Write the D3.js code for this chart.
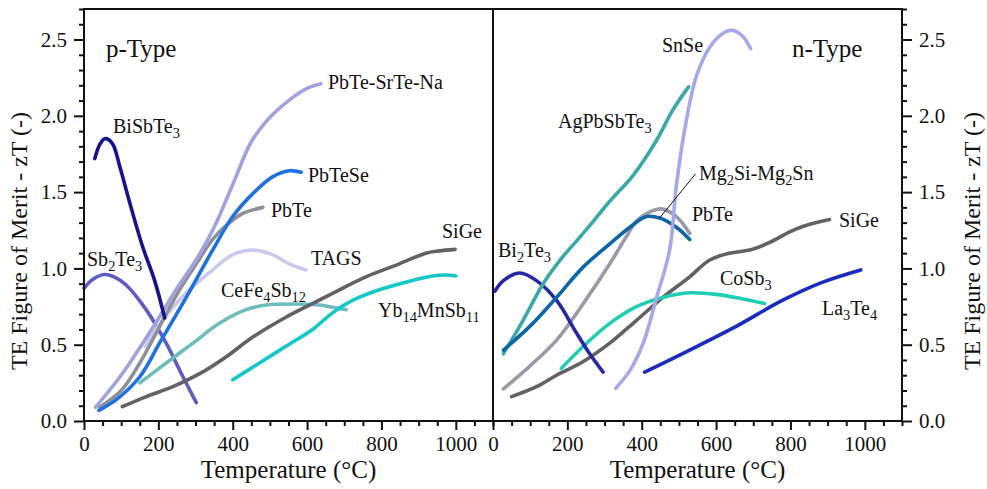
<!DOCTYPE html>
<html>
<head>
<meta charset="utf-8">
<script src="https://cdn.jsdelivr.net/npm/d3@7"></script>
<style>
  body { margin: 0; background: #fff; }
</style>
</head>
<body>
<svg width="987" height="489"></svg>
<script>
// Overall dimension of the canvas
const width = 987, height = 489;
const FONT = '"Liberation Serif"';

// Axis setup shared by both panels
const xDomain = [0, 1100];
const yDomain = [0, 2.7];
const xMajorTicks = [0, 200, 400, 600, 800, 1000];
const yMajorTicks = [0, 0.5, 1.0, 1.5, 2.0, 2.5];
const xTitle = "Temperature (\u00B0C)";
const yTitle = "TE Figure of Merit - zT (-)";

// ---- p-Type series: [temperature (°C), zT] ----
const pBiSbTe3 = [[29,1.72],[42,1.81],[56,1.85],[76,1.82],[96,1.67],[123,1.43],[158,1.14],[190,0.92],[217,0.675]];
const pSb2Te3 = [[0,0.87],[25,0.93],[55,0.96],[85,0.94],[114,0.89],[167,0.73],[221,0.51],[266,0.29],[302,0.12]];
const pPbTeSrTeNa = [[31,0.09],[100,0.30],[150,0.48],[200,0.67],[250,0.87],[300,1.05],[350,1.27],[400,1.55],[450,1.83],[500,1.99],[550,2.10],[600,2.18],[637,2.21]];
const pPbTeSe = [[40,0.07],[87,0.14],[150,0.29],[203,0.51],[275,0.81],[346,1.12],[400,1.34],[454,1.49],[507,1.60],[552,1.64],[584,1.63]];
const pPbTe = [[42,0.09],[100,0.2],[150,0.38],[212,0.66],[257,0.86],[302,1.03],[346,1.19],[382,1.28],[427,1.36],[481,1.40]];
const pTAGS = [[165,0.49],[186,0.575],[275,0.84],[346,0.99],[400,1.09],[454,1.12],[507,1.09],[552,1.03],[597,0.99]];
const pCeFe4Sb12 = [[150,0.25],[221,0.38],[293,0.51],[364,0.64],[436,0.73],[490,0.76],[561,0.767],[633,0.76],[669,0.745],[705,0.73]];
const pSiGe = [[103,0.094],[168,0.16],[239,0.225],[311,0.31],[382,0.42],[454,0.55],[543,0.68],[615,0.77],[687,0.86],[758,0.945],[848,1.03],[919,1.10],[955,1.115],[998,1.125]];
const pYb14MnSb11 = [[400,0.27],[472,0.38],[543,0.49],[615,0.60],[669,0.71],[722,0.79],[794,0.86],[866,0.91],[937,0.95],[973,0.957],[1000,0.95]];

// ---- n-Type series ----
const nBi2Te3 = [[5,0.85],[28,0.92],[72,0.97],[117,0.92],[171,0.79],[225,0.575],[260,0.44],[296,0.32]];
const nAgPbSbTe3 = [[28,0.44],[81,0.66],[135,0.90],[189,1.08],[225,1.18],[260,1.28],[314,1.44],[377,1.61],[440,1.84],[484,2.04],[526,2.19]];
const nSnSe = [[330,0.214],[368,0.33],[404,0.51],[440,0.81],[475,1.12],[493,1.54],[520,1.97],[547,2.26],[583,2.45],[618,2.54],[645,2.56],[672,2.52],[693,2.44]];
const nMg2SiMg2Sn = [[28,0.465],[99,0.62],[171,0.81],[243,1.01],[314,1.16],[368,1.27],[413,1.34],[448,1.33],[493,1.27],[529,1.19]];
const nPbTe = [[28,0.21],[99,0.36],[171,0.53],[243,0.77],[314,1.03],[359,1.21],[386,1.31],[422,1.37],[453,1.39],[493,1.34],[529,1.23]];
const nSiGe = [[50,0.16],[117,0.225],[171,0.30],[243,0.39],[314,0.51],[386,0.66],[457,0.81],[529,0.945],[583,1.055],[636,1.10],[690,1.12],[744,1.17],[798,1.24],[833,1.275],[869,1.30],[905,1.32]];
const nCoSb3 = [[184,0.345],[243,0.49],[314,0.64],[386,0.75],[457,0.81],[529,0.84],[601,0.83],[672,0.80],[730,0.77]];
const nLa3Te4 = [[408,0.32],[529,0.465],[654,0.62],[778,0.79],[887,0.91],[989,0.99]];

// Series tables (name with _n meaning subscript, data, colour, label anchor)
const pSeries = [
  {name: "Sb_2Te_3", data: pSb2Te3, color: "#5d5dc2", lx: 87, ly: 266},
  {name: "CeFe_4Sb_12", data: pCeFe4Sb12, color: "#6dbdbd", lx: 221, ly: 297},
  {name: "SiGe", data: pSiGe, color: "#626266", lx: 442, ly: 238},
  {name: "Yb_14MnSb_11", data: pYb14MnSb11, color: "#14c8c8", lx: 378, ly: 317},
  {name: "TAGS", data: pTAGS, color: "#cacaea", lx: 311, ly: 265},
  {name: "PbTe", data: pPbTe, color: "#8f8f99", lx: 271, ly: 217},
  {name: "PbTe-SrTe-Na", data: pPbTeSrTeNa, color: "#a2a2e0", lx: 328, ly: 89},
  {name: "PbTeSe", data: pPbTeSe, color: "#1f72de", lx: 308, ly: 182},
  {name: "BiSbTe_3", data: pBiSbTe3, color: "#14148c", lx: 113, ly: 133}
];
const nSeries = [
  {name: "SiGe", data: nSiGe, color: "#626266", lx: 839, ly: 227},
  {name: "CoSb_3", data: nCoSb3, color: "#1fcfb4", lx: 720, ly: 285},
  {name: "La_3Te_4", data: nLa3Te4, color: "#1a2cc0", lx: 822, ly: 315},
  {name: "PbTe", data: nPbTe, color: "#9a9aa6", lx: 692, ly: 221},
  {name: "Bi_2Te_3", data: nBi2Te3, color: "#2828a6", lx: 498, ly: 257},
  {name: "AgPbSbTe_3", data: nAgPbSbTe3, color: "#3aa9a8", lx: 558, ly: 128},
  {name: "Mg_2Si-Mg_2Sn", data: nMg2SiMg2Sn, color: "#0e66a8", lx: 699, ly: 180},
  {name: "SnSe", data: nSnSe, color: "#a8a8e8", lx: 662, ly: 52}
];

const svg = d3.select("svg");

// Plot area
const plotTop = 9, plotBottom = 421;
const leftX0 = 84, midX = 493, rightX1 = 902;

const y = d3.scaleLinear().domain(yDomain).range([plotBottom, plotTop]);
const xP = d3.scaleLinear().domain(xDomain).range([leftX0, midX]);
const xN = d3.scaleLinear().domain(xDomain).range([midX, rightX1]);

// write a label that may contain subscripts (e.g. "Sb_2Te_3")
function richText(sel, str) {
  const parts = str.split(/_(\d+)/);
  let sub = false;
  parts.forEach((p, i) => {
    if (p === "") return;
    if (i % 2 === 1) {
      sel.append("tspan").style("font-size", "0.72em").attr("dy", sub ? 0 : 5).text(p);
      sub = true;
    } else {
      sel.append("tspan").attr("dy", sub ? -5 : 0).text(p);
      sub = false;
    }
  });
}

function drawPanel(x, series, typeLabel, typeX, side) {
  const g = svg.append("g");

  const line = d3.line()
    .x(d => x(d[0]))
    .y(d => y(d[1]))
    .curve(d3.curveCatmullRom.alpha(0.5));

  g.selectAll("path.curve")
    .data(series)
    .join("path")
    .attr("class", "curve")
    .attr("d", d => line(d.data))
    .attr("fill", "none")
    .attr("stroke", d => d.color)
    .attr("stroke-width", 3.6)
    .attr("stroke-linecap", "round");

  // curve labels
  g.selectAll("text.lab")
    .data(series)
    .join("text")
    .attr("class", "lab")
    .attr("x", d => d.lx)
    .attr("y", d => d.ly)
    .style("font-family", FONT)
    .style("font-size", "20px")
    .attr("fill", "#111")
    .each(function(d) { richText(d3.select(this), d.name); });

  // type label
  g.append("text")
    .attr("x", typeX)
    .attr("y", 57)
    .style("font-family", FONT)
    .style("font-size", "25px")
    .attr("fill", "#111")
    .text(typeLabel);

  // x axis: major + minor ticks
  const xAxis = d3.axisBottom(x).tickValues(xMajorTicks).tickSize(9).tickFormat(d3.format("d"));
  const xMinor = d3.axisBottom(x).tickValues(d3.range(50, 1101, 50).filter(v => v % 200 !== 0)).tickSize(5).tickFormat("");
  const ax = g.append("g").attr("transform", `translate(0,${plotBottom})`).call(xAxis);
  g.append("g").attr("transform", `translate(0,${plotBottom})`).call(xMinor);
  ax.selectAll("text").style("font-family", FONT).style("font-size", "21px").attr("fill", "#111").attr("dy", "0.85em");

  // x title
  g.append("text")
    .attr("x", (x.range()[0] + x.range()[1]) / 2)
    .attr("y", 478)
    .attr("text-anchor", "middle")
    .style("font-family", FONT)
    .style("font-size", "25px")
    .attr("fill", "#111")
    .text(xTitle);

  // y axis on the outer side of each panel
  const yPos = side === "left" ? x.range()[0] : x.range()[1];
  const mk = side === "left" ? d3.axisLeft : d3.axisRight;
  const yAxis = mk(y).tickValues(yMajorTicks).tickSize(10).tickPadding(7).tickFormat(d3.format(".1f"));
  const yMinor = mk(y).tickValues(d3.range(0.1, 2.71, 0.1).filter(v => Math.abs(v * 2 - Math.round(v * 2)) > 0.01)).tickSize(5).tickFormat("");
  const ay = g.append("g").attr("transform", `translate(${yPos},0)`).call(yAxis);
  g.append("g").attr("transform", `translate(${yPos},0)`).call(yMinor);
  ay.selectAll("text").style("font-family", FONT).style("font-size", "21px").attr("fill", "#111");

  // y title (rotated)
  const tx = side === "left" ? 27 : 980;
  g.append("text")
    .attr("transform", `translate(${tx},241) rotate(-90)`)
    .attr("text-anchor", "middle")
    .style("font-family", FONT)
    .style("font-size", "24px")
    .attr("fill", "#111")
    .text(yTitle);

  g.selectAll(".domain").remove();
  g.selectAll(".tick line").attr("stroke", "#111").attr("stroke-width", 2);
}

drawPanel(xP, pSeries, "p-Type", 106, "left");
drawPanel(xN, nSeries, "n-Type", 792, "right");

// leader line for Mg2Si-Mg2Sn
svg.append("line")
  .attr("x1", xN(448)).attr("y1", y(1.33))
  .attr("x2", xN(545)).attr("y2", y(1.62))
  .attr("stroke", "#111").attr("stroke-width", 1);

// Frame: outer box plus middle divider
svg.append("rect")
  .attr("x", leftX0).attr("y", plotTop)
  .attr("width", rightX1 - leftX0).attr("height", plotBottom - plotTop)
  .attr("fill", "none").attr("stroke", "#111").attr("stroke-width", 2);
svg.append("line")
  .attr("x1", midX).attr("x2", midX).attr("y1", plotTop).attr("y2", plotBottom)
  .attr("stroke", "#111").attr("stroke-width", 2);
</script>
</body>
</html>
